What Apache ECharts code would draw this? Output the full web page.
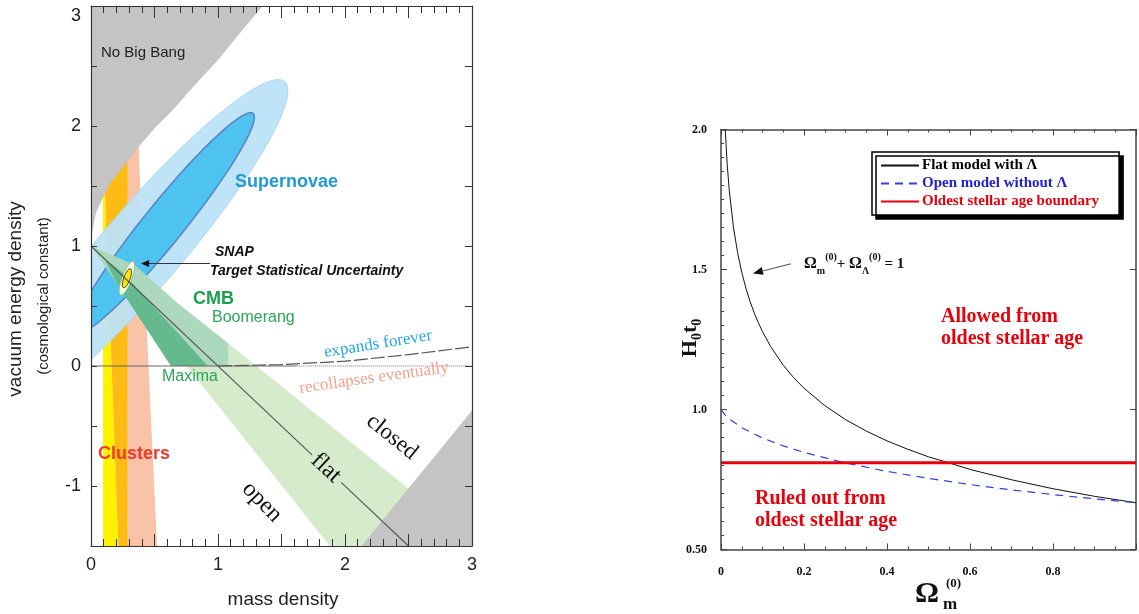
<!DOCTYPE html>
<html><head><meta charset="utf-8">
<script src="https://cdn.jsdelivr.net/npm/echarts@6/dist/echarts.min.js"></script>
<style>html,body{margin:0;padding:0;background:#fff}#c{width:1139px;height:614px}</style>
</head><body><div id="c"></div>
<script>
// ================= LEFT PANEL DATA (mass density vs vacuum energy density) =================
const leftXTickLabels = ['0', '1', '2', '3'];
const leftYTickLabels = ['-1', '0', '1', '2', '3'];

const noBigBang = [[0,3],[0,1.0],[0.01,1.12],[0.04,1.28],[0.08,1.37],[0.15,1.52],[0.24,1.64],[0.37,1.82],[0.5,1.98],[0.65,2.14],[0.8,2.32],[1.0,2.55],[1.17,2.77],[1.35,3.0]];
const closedGrey = [[2.13,-1.5],[3.0,-0.37],[3.0,-1.5]];

const clusterYellow = [[0.095,-1.5],[0.215,-1.5],[0.11,1.45],[0.11,2.0],[0.095,2.0]];
const clusterOrange = [[0.215,-1.5],[0.29,-1.5],[0.29,2.0],[0.11,2.0],[0.11,1.45]];
const clusterSalmon = [[0.29,-1.5],[0.52,-1.5],[0.39,1.4],[0.37,2.0],[0.29,2.0]];

// ellipse: [centerX, centerY, majorX, majorY, minorX, minorY] (data units)
const snOuter = [0.40, 0.98, 1.125, 1.39, 0.2392, -0.2169];
const snInner = [0.578, 1.19, 0.698, 0.915, 0.1225, -0.1047];
const snapOuter = [0.283, 0.731, 0.050, 0.140, 0.036, -0.0142];
const snapInner = [0.283, 0.731, 0.0275, 0.078, 0.0235, -0.0094];

const cmbMaxima = [[0,1.0],[0.344,0.84],[0.685,0.52],[1.08,0.19],[3.06,-1.5],[1.88,-1.5]];
const cmbBoomerang = [[0,1.0],[0.344,0.84],[0.685,0.52],[1.08,0.19],[1.08,0.0],[0.63,0.0],[0.22,0.66]];
const cmbCore = [[0.10,0.90],[0.25,0.78],[0.92,0.0],[0.63,0.0],[0.22,0.66]];

const zeroLineSolid = [[0,0],[1.62,0]];
const zeroLineDotted = [[1.62,0],[3,0]];
const expandBoundaryX = [1.0, 1.5, 2.0, 2.5, 3.0];
const expandBoundaryY = [0.0, 0.012, 0.04, 0.095, 0.16];
const flatLineA = [[0,1],[1.74,-0.74]];
const flatLineB = [[1.97,-0.97],[2.5,-1.5]];
const snapArrow = [[0.937,0.854],[0.394,0.854]];

// ================= RIGHT PANEL DATA (H0 t0 vs Omega_m) =================
const rightXTickValues = [0, 0.2, 0.4, 0.6, 0.8];
const rightXTickLabels = ['0', '0.2', '0.4', '0.6', '0.8'];
const rightYTickValues = [0.5, 1.0, 1.5, 2.0];
const rightYTickLabels = ['0.50', '1.0', '1.5', '2.0'];

const flatOmega = [0.01,0.015,0.02,0.03,0.04,0.05,0.06,0.07,0.08,0.09,0.1,0.12,0.15,0.175,0.2,0.25,0.3,0.35,0.4,0.45,0.5,0.55,0.6,0.7,0.8,0.9,1.0];
const flatH0t0  = [2.005,1.874,1.781,1.651,1.560,1.490,1.433,1.386,1.345,1.310,1.278,1.224,1.158,1.114,1.076,1.014,0.964,0.923,0.888,0.858,0.831,0.809,0.786,0.749,0.717,0.690,0.667];
const openOmega = [0,0.01,0.02,0.05,0.1,0.15,0.2,0.3,0.4,0.5,0.6,0.7,0.8,0.9,1.0];
const openH0t0  = [1.0,0.980,0.966,0.935,0.898,0.870,0.847,0.809,0.779,0.754,0.732,0.713,0.696,0.681,0.667];
const stellarX = [0, 1];
const stellarY = [0.81, 0.81];
const flatArrow = [[0.168,1.52],[0.077,1.486]];

const seriesNames = ['Flat model with Λ', 'Open model without Λ', 'Oldest stellar age boundary'];

// ================= helpers =================
const SANS = '"Liberation Sans", Arial, sans-serif';
const SERIF = '"Liberation Serif", "Times New Roman", serif';
const zip = (xs, ys) => xs.map((x, i) => [x, ys[i]]);
const clipOf = cs => ({type:'rect', shape:{x:cs.x, y:cs.y, width:cs.width, height:cs.height}});

function polySeries(pts, style) {
  return {type:'custom', xAxisIndex:0, yAxisIndex:0, silent:true, data:[pts[0]],
    renderItem: (params, api) => ({type:'polygon', shape:{points: pts.map(p => api.coord(p))}, style: style, clipPath: clipOf(params.coordSys)})};
}
function ellipseSeries(par, style) {
  return {type:'custom', xAxisIndex:0, yAxisIndex:0, silent:true, data:[[par[0], par[1]]],
    renderItem: (params, api) => {
      const pts = [];
      for (let k = 0; k < 96; k++) {
        const t = 2 * Math.PI * k / 96;
        pts.push(api.coord([par[0] + par[2]*Math.cos(t) + par[4]*Math.sin(t), par[1] + par[3]*Math.cos(t) + par[5]*Math.sin(t)]));
      }
      return {type:'polygon', shape:{points:pts}, style: style, clipPath: clipOf(params.coordSys)};
    }};
}
function arrowSeries(seg, xi, yi, head, stroke) {
  return {type:'custom', xAxisIndex:xi, yAxisIndex:yi, silent:true, data:[seg[0]],
    renderItem: (params, api) => {
      const p = api.coord(seg[0]), q = api.coord(seg[1]);
      const dx = q[0]-p[0], dy = q[1]-p[1], L = Math.hypot(dx, dy), ux = dx/L, uy = dy/L;
      const b = [q[0]-ux*head[0], q[1]-uy*head[0]];
      return {type:'group', children:[
        {type:'line', shape:{x1:p[0], y1:p[1], x2:b[0], y2:b[1]}, style:{stroke: stroke, lineWidth:1.1}},
        {type:'polygon', shape:{points:[q, [b[0]-uy*head[1], b[1]+ux*head[1]], [b[0]+uy*head[1], b[1]-ux*head[1]]]}, style:{fill:'#111'}}
      ]};
    }};
}
function lineSeries(data, style, xi, yi, name) {
  return {type:'line', name: name, xAxisIndex:xi, yAxisIndex:yi, data: data, symbol:'none', silent: true,
    lineStyle: style, itemStyle:{color: style.color}, animation:false};
}
function txt(x, y, text, font, fill, rot, align) {
  return {type:'text', x:x, y:y, rotation: rot || 0, silent:true, z:100,
    style:{text:text, font:font, fill:fill, align: align || 'left', verticalAlign:'middle'}};
}

const leftLabelFmt = v => leftYTickLabels.indexOf(String(v)) >= 0 ? (v === 3 ? '{t|3}' : String(v)) : '';
const rxFmt = v => { const i = rightXTickValues.findIndex(t => Math.abs(t - v) < 1e-6); return i >= 0 ? rightXTickLabels[i] : ''; };
const ryFmt = v => { const i = rightYTickValues.findIndex(t => Math.abs(t - v) < 1e-6); return i >= 0 ? rightYTickLabels[i] : ''; };

const leftAxisLine = {show:true, onZero:false, lineStyle:{color:'#333', width:1.2}};
const rightAxisLine = {show:true, onZero:false, lineStyle:{color:'#444', width:1.5}};

const option = {
  animation: false,
  backgroundColor: '#fff',
  grid: [
    {left: 91, top: 6, width: 381, height: 540},
    {left: 721, top: 129.5, width: 421.5, height: 420}
  ],
  xAxis: [
    {gridIndex:0, z:10, type:'value', position:'bottom', min:0, max:3, interval:0.5,
      axisLine:leftAxisLine, axisTick:{inside:true, length:12, lineStyle:{color:'#333'}},
      minorTick:{show:true, splitNumber:5, length:7, lineStyle:{color:'#333'}}, splitLine:{show:false}, minorSplitLine:{show:false},
      axisLabel:{margin:10, fontFamily:SANS, fontSize:18, color:'#222', formatter: v => leftXTickLabels.indexOf(String(v)) >= 0 ? String(v) : ''}},
    {gridIndex:0, z:10, type:'value', position:'top', min:0, max:3, interval:0.5,
      axisLine:leftAxisLine, axisTick:{inside:true, length:12, lineStyle:{color:'#333'}},
      minorTick:{show:true, splitNumber:5, length:7, lineStyle:{color:'#333'}}, splitLine:{show:false}, axisLabel:{show:false}},
    {gridIndex:1, z:10, type:'value', position:'bottom', min:0, max:1, interval:0.2,
      axisLine:rightAxisLine, axisTick:{inside:true, length:6, lineStyle:{color:'#444'}},
      minorTick:{show:true, splitNumber:4, length:3, lineStyle:{color:'#444'}}, splitLine:{show:false},
      axisLabel:{margin:16, fontFamily:SERIF, fontWeight:'bold', fontSize:12, color:'#111', formatter: rxFmt}},
    {gridIndex:1, z:10, type:'value', position:'top', min:0, max:1, interval:0.2,
      axisLine:rightAxisLine, axisTick:{inside:true, length:6, lineStyle:{color:'#444'}},
      minorTick:{show:true, splitNumber:4, length:3, lineStyle:{color:'#444'}}, splitLine:{show:false}, axisLabel:{show:false}}
  ],
  yAxis: [
    {gridIndex:0, z:10, type:'value', position:'left', min:-1.5, max:3, interval:0.5,
      axisLine:leftAxisLine, axisTick:{inside:true, length:6, lineStyle:{color:'#333'}}, splitLine:{show:false},
      axisLabel:{margin:10, fontFamily:SANS, fontSize:18, color:'#222', formatter: leftLabelFmt, rich:{t:{fontFamily:SANS, fontSize:18, color:'#222', padding:[20,0,0,0]}}}},
    {gridIndex:0, z:10, type:'value', position:'right', min:-1.5, max:3, interval:0.5,
      axisLine:leftAxisLine, axisTick:{inside:true, length:7, lineStyle:{color:'#333'}}, splitLine:{show:false}, axisLabel:{show:false}},
    {gridIndex:1, z:10, type:'value', position:'left', min:0.5, max:2.0, interval:0.5,
      axisLine:rightAxisLine, axisTick:{inside:true, length:6, lineStyle:{color:'#444'}},
      minorTick:{show:true, splitNumber:10, length:3, lineStyle:{color:'#444'}}, splitLine:{show:false},
      axisLabel:{margin:14, fontFamily:SERIF, fontWeight:'bold', fontSize:12, color:'#111', formatter: ryFmt}},
    {gridIndex:1, z:10, type:'value', position:'right', min:0.5, max:2.0, interval:0.5,
      axisLine:rightAxisLine, axisTick:{inside:true, length:6, lineStyle:{color:'#444'}},
      minorTick:{show:false}, splitLine:{show:false}, axisLabel:{show:false}}
  ],
  legend: {
    data: [
      {name: seriesNames[0], textStyle:{color:'#000'}},
      {name: seriesNames[1], textStyle:{color:'#1f1fd6'}},
      {name: seriesNames[2], textStyle:{color:'#e8000b'}}
    ],
    orient:'vertical', left:872, top:152, itemWidth:38, itemHeight:14, itemGap:3,
    padding:[6,20,6,8], backgroundColor:'#fff', borderColor:'#000', borderWidth:1.5, borderRadius:0,
    shadowColor:'#000', shadowOffsetX:4, shadowOffsetY:4, shadowBlur:0, selectedMode:false,
    itemStyle:{opacity:0},
    textStyle:{fontFamily:SERIF, fontWeight:'bold', fontSize:15, lineHeight:14, padding:[0,0,0,-2]}
  },
  series: [
    polySeries(clusterYellow, {fill:'#fff200'}),
    polySeries(clusterOrange, {fill:'#fdbb14'}),
    polySeries(clusterSalmon, {fill:'#f8c3a6'}),
    ellipseSeries(snOuter, {fill:'#bde3f7', stroke:'#a3d5f1', lineWidth:1, opacity:0.95}),
    ellipseSeries(snInner, {fill:'#4ec3f0', stroke:'#5a80c6', lineWidth:1.5}),
    polySeries(noBigBang, {fill:'#c4c4c4'}),
    polySeries(cmbMaxima, {fill:'#d3e9c8', opacity:0.92}),
    polySeries(cmbBoomerang, {fill:'#a6d5bb', opacity:0.88}),
    polySeries(cmbCore, {fill:'#5db78a', opacity:0.92}),
    polySeries(closedGrey, {fill:'#c4c4c4'}),
    lineSeries(zeroLineSolid, {color:'#666', width:1.1}, 0, 0),
    lineSeries(zeroLineDotted, {color:'#777', width:1, type:'dotted'}, 0, 0),
    lineSeries(zip(expandBoundaryX, expandBoundaryY), {color:'#555', width:1.2, type:[14,3]}, 0, 0),
    lineSeries(flatLineA, {color:'#555', width:1.1}, 0, 0),
    lineSeries(flatLineB, {color:'#555', width:1.1}, 0, 0),
    ellipseSeries(snapOuter, {fill:'#f4fbe8', stroke:'#8cbf7a', lineWidth:1}),
    ellipseSeries(snapInner, {fill:'#ffe600', stroke:'#222', lineWidth:1}),
    arrowSeries(snapArrow, 0, 0, [8, 3.5], '#333'),
    lineSeries(zip(flatOmega, flatH0t0), {color:'#111', width:1}, 2, 2, seriesNames[0]),
    lineSeries(zip(openOmega, openH0t0), {color:'#3040e0', width:1.2, type:[8,6]}, 2, 2, seriesNames[1]),
    lineSeries(zip(stellarX, stellarY), {color:'#e8000b', width:3}, 2, 2, seriesNames[2]),
    arrowSeries(flatArrow, 2, 2, [10, 4], '#666')
  ],
  graphic: [
    // left panel texts
    txt(101, 53, 'No Big Bang', '15px ' + SANS, '#222'),
    txt(235, 182, 'Supernovae', 'bold 18px ' + SANS, '#1e9ad8'),
    txt(215, 252, 'SNAP', 'italic bold 14px ' + SANS, '#111'),
    txt(210, 271, 'Target Statistical Uncertainty', 'italic bold 14px ' + SANS, '#111'),
    txt(193, 299, 'CMB', 'bold 18px ' + SANS, '#18a04c'),
    txt(212, 318, 'Boomerang', '16px ' + SANS, '#2aa55a'),
    txt(162, 377, 'Maxima', '16px ' + SANS, '#2aa55a'),
    txt(98, 454, 'Clusters', 'bold 18px ' + SANS, '#ee3b2b'),
    txt(378, 344, 'expands forever', '17px ' + SERIF, '#22a8ec', 0.16, 'center'),
    txt(374, 378, 'recollapses eventually', '17px ' + SERIF, '#f4a08a', 0.14, 'center'),
    txt(392, 437, 'closed', '23px ' + SERIF, '#111', -0.68, 'center'),
    txt(326, 468, 'flat', '24px ' + SERIF, '#111', -0.75, 'center'),
    txt(262, 502, 'open', '24px ' + SERIF, '#111', -0.8, 'center'),
    txt(16, 299, 'vacuum energy density', '19px ' + SANS, '#222', Math.PI/2, 'center'),
    txt(44, 296, '(cosmological constant)', '15px ' + SANS, '#222', Math.PI/2, 'center'),
    txt(283, 600, 'mass density', '19px ' + SANS, '#222', 0, 'center'),
    // right panel texts
    txt(941, 317, 'Allowed from', 'bold 20px ' + SERIF, '#e8000b'),
    txt(941, 339, 'oldest stellar age', 'bold 20px ' + SERIF, '#e8000b'),
    txt(755, 499, 'Ruled out from', 'bold 20px ' + SERIF, '#e8000b'),
    txt(755, 521, 'oldest stellar age', 'bold 20px ' + SERIF, '#e8000b'),
    {type:'text', x:804, y:264, silent:true, z:100, style:{
      text:'{O|Ω}{s|m}{p|(0)}{n|+ }{O|Ω}{s|Λ}{p|(0)}{n| = 1}', align:'left', verticalAlign:'middle',
      rich:{
        O:{fontFamily:SERIF, fontWeight:'bold', fontSize:16, lineHeight:24, verticalAlign:'middle', fill:'#111'},
        s:{fontFamily:SERIF, fontWeight:'bold', fontSize:10, lineHeight:10, verticalAlign:'bottom', fill:'#111'},
        p:{fontFamily:SERIF, fontWeight:'bold', fontSize:10, lineHeight:10, verticalAlign:'top', fill:'#111'},
        n:{fontFamily:SERIF, fontWeight:'bold', fontSize:15, lineHeight:24, verticalAlign:'middle', fill:'#111'}
      }}},
    {type:'text', x:690, y:338, rotation:Math.PI/2, silent:true, z:100, style:{
      text:'{H|H}{s|0}{H|t}{s|0}', align:'center', verticalAlign:'middle',
      rich:{
        H:{fontFamily:SERIF, fontWeight:'bold', fontSize:22, lineHeight:28, verticalAlign:'middle', fill:'#111'},
        s:{fontFamily:SERIF, fontWeight:'bold', fontSize:14, lineHeight:14, verticalAlign:'bottom', fill:'#111'}
      }}},
    txt(915, 594, 'Ω', 'bold 30px ' + SERIF, '#111'),
    txt(943, 605, 'm', 'bold 17px ' + SERIF, '#111'),
    txt(946, 584, '(0)', 'bold 13px ' + SERIF, '#111')
  ]
};

const chart = echarts.init(document.getElementById('c'), null, {renderer:'canvas'});
chart.setOption(option);
</script>
</body></html>
